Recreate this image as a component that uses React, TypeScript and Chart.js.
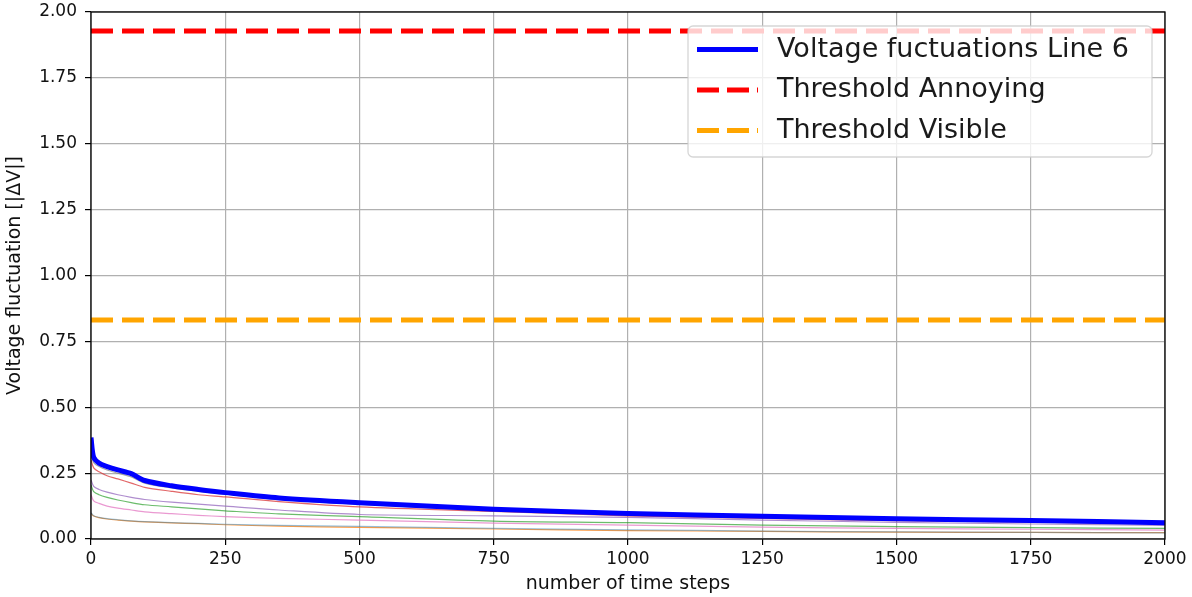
import React, { useEffect, useRef } from "react";
import { Chart, registerables } from "chart.js";

Chart.register(...registerables);

// ---------- data ----------
const timeSteps = [0, 5, 15, 30, 50, 75, 100, 150, 200, 250, 350, 500, 750, 1000, 1250, 1500, 1750, 2000];

const line6 = [0.385, 0.31, 0.288, 0.275, 0.262, 0.248, 0.222, 0.202, 0.188, 0.176, 0.156, 0.138, 0.113, 0.097, 0.086, 0.077, 0.07, 0.062];
const lineGray = [0.32, 0.29, 0.275, 0.262, 0.25, 0.236, 0.212, 0.194, 0.181, 0.17, 0.15, 0.132, 0.108, 0.093, 0.082, 0.073, 0.066, 0.058];
const lineRed = [0.3, 0.27, 0.255, 0.24, 0.228, 0.212, 0.196, 0.181, 0.168, 0.16, 0.142, 0.122, 0.105, 0.088, 0.078, 0.07, 0.064, 0.058];
const linePurple = [0.225, 0.2, 0.188, 0.178, 0.168, 0.158, 0.15, 0.14, 0.132, 0.125, 0.11, 0.093, 0.088, 0.082, 0.072, 0.063, 0.057, 0.052];
const lineGreen = [0.205, 0.18, 0.168, 0.158, 0.148, 0.138, 0.13, 0.122, 0.114, 0.107, 0.095, 0.085, 0.068, 0.062, 0.053, 0.047, 0.043, 0.04];
const linePink = [0.168, 0.145, 0.135, 0.125, 0.117, 0.11, 0.103, 0.096, 0.09, 0.085, 0.078, 0.072, 0.06, 0.053, 0.045, 0.04, 0.037, 0.034];
const lineLightBlue = [0.1, 0.088, 0.082, 0.077, 0.073, 0.069, 0.066, 0.062, 0.059, 0.056, 0.052, 0.048, 0.04, 0.035, 0.03, 0.027, 0.025, 0.023];
const lineOrange = [0.097, 0.087, 0.081, 0.076, 0.072, 0.068, 0.065, 0.061, 0.058, 0.054, 0.049, 0.044, 0.038, 0.032, 0.029, 0.026, 0.025, 0.024];

const thresholdAnnoying = 1.928;
const thresholdVisible = 0.831;

const legendLabels = ["Voltage fuctuations Line 6", "Threshold Annoying", "Threshold Visible"];
const xTitle = "number of time steps";
const yTitle = "Voltage fluctuation [|ΔV|]";

const FONT = "'DejaVu Sans', 'Liberation Sans', sans-serif";

function pts(ys: number[]) {
  return timeSteps.map((x, i) => ({ x, y: ys[i] }));
}

const framePlugin = {
  id: "frameAndLegend",
  afterDraw(chart: any) {
    const { ctx, chartArea } = chart;
    const { left, top, right, bottom } = chartArea;
    ctx.save();
    // spines
    ctx.strokeStyle = "#000";
    ctx.lineWidth = 1.3;
    ctx.strokeRect(left, top, right - left, bottom - top);

    // legend
    const bx = 688, by = 26, bw = 464, bh = 131;
    ctx.beginPath();
    if (ctx.roundRect) ctx.roundRect(bx, by, bw, bh, 5);
    else ctx.rect(bx, by, bw, bh);
    ctx.fillStyle = "rgba(255,255,255,0.8)";
    ctx.fill();
    ctx.strokeStyle = "rgba(204,204,204,0.8)";
    ctx.lineWidth = 1.3;
    ctx.stroke();

    const rows = [
      { y: 49.5, color: "#0000ff", dash: [] as number[] },
      { y: 90, color: "#ff0000", dash: [22, 8] },
      { y: 130.5, color: "#ffa500", dash: [22, 8] },
    ];
    rows.forEach((r, i) => {
      ctx.beginPath();
      ctx.setLineDash(r.dash);
      ctx.strokeStyle = r.color;
      ctx.lineWidth = 5;
      ctx.lineCap = "butt";
      ctx.moveTo(697, r.y);
      ctx.lineTo(758, r.y);
      ctx.stroke();
      ctx.setLineDash([]);
      ctx.fillStyle = "#1a1a1a";
      ctx.font = `27px ${FONT}`;
      ctx.textBaseline = "middle";
      ctx.textAlign = "left";
      ctx.fillText(legendLabels[i], 777, r.y);
    });
    ctx.restore();
  },
};

export default function App() {
  const canvasRef = useRef<HTMLCanvasElement | null>(null);

  useEffect(() => {
    const canvas = canvasRef.current;
    if (!canvas) return;
    const thin = (label: string, ys: number[], color: string, order: number) => ({
      label,
      data: pts(ys),
      borderColor: color,
      borderWidth: 1.2,
      pointRadius: 0,
      tension: 0.3,
      order,
    });
    const chart = new Chart(canvas, {
      type: "line",
      data: {
        datasets: [
          {
            label: legendLabels[0],
            data: pts(line6),
            borderColor: "#0000ff",
            borderWidth: 5,
            pointRadius: 0,
            tension: 0.3,
            order: 1,
          },
          thin("gray", lineGray, "rgba(127,127,127,0.7)", 5),
          thin("red", lineRed, "rgba(214,39,40,0.7)", 6),
          thin("purple", linePurple, "rgba(148,103,189,0.75)", 7),
          thin("green", lineGreen, "rgba(44,160,44,0.7)", 8),
          thin("pink", linePink, "rgba(227,119,194,0.75)", 9),
          thin("lightblue", lineLightBlue, "rgba(31,119,180,0.45)", 10),
          thin("orange", lineOrange, "rgba(255,127,14,0.75)", 11),
          {
            label: legendLabels[1],
            data: [
              { x: timeSteps[0], y: thresholdAnnoying },
              { x: timeSteps[timeSteps.length - 1], y: thresholdAnnoying },
            ],
            borderColor: "#ff0000",
            borderWidth: 5,
            borderDash: [22, 9],
            pointRadius: 0,
            order: 2,
          },
          {
            label: legendLabels[2],
            data: [
              { x: timeSteps[0], y: thresholdVisible },
              { x: timeSteps[timeSteps.length - 1], y: thresholdVisible },
            ],
            borderColor: "#ffa500",
            borderWidth: 5,
            borderDash: [22, 9],
            pointRadius: 0,
            order: 3,
          },
        ],
      },
      options: {
        animation: false,
        responsive: true,
        maintainAspectRatio: false,
        layout: { padding: { left: 0, top: 12, right: 27, bottom: 0 } },
        plugins: { legend: { display: false }, tooltip: { enabled: false } },
        scales: {
          x: {
            type: "linear",
            min: 0,
            max: 2000,
            afterFit: (s: any) => {
              s.height = 58;
              s.paddingLeft = 0;
              s.paddingRight = 0;
            },
            ticks: {
              stepSize: 250,
              autoSkip: false,
              maxRotation: 0,
              padding: 4,
              color: "#111",
              font: { family: FONT, size: 17 },
              callback: (v: any) => String(v),
            },
            grid: { color: "#b0b0b0", lineWidth: 1.2, tickLength: 6, tickColor: "#000", tickWidth: 1.2 },
            border: { display: false },
            title: {
              display: true,
              text: xTitle,
              color: "#111",
              font: { family: FONT, size: 19 },
              padding: { top: 0, bottom: 2 },
            },
          },
          y: {
            type: "linear",
            min: 0,
            max: 2,
            afterFit: (s: any) => {
              s.width = 91;
              s.paddingTop = 0;
              s.paddingBottom = 0;
            },
            ticks: {
              stepSize: 0.25,
              autoSkip: false,
              padding: 8,
              color: "#111",
              font: { family: FONT, size: 17 },
              callback: (v: any) => Number(v).toFixed(2),
            },
            grid: { color: "#b0b0b0", lineWidth: 1.2, tickLength: 6, tickColor: "#000", tickWidth: 1.2 },
            border: { display: false },
            title: {
              display: true,
              text: yTitle,
              color: "#111",
              font: { family: FONT, size: 19 },
              padding: { top: 4, bottom: 0 },
            },
          },
        },
      },
      plugins: [framePlugin],
    } as any);
    return () => chart.destroy();
  }, []);

  return (
    <div style={{ position: "absolute", left: 0, top: 0, width: 1192, height: 597, background: "#fff" }}>
      <canvas ref={canvasRef} />
    </div>
  );
}
